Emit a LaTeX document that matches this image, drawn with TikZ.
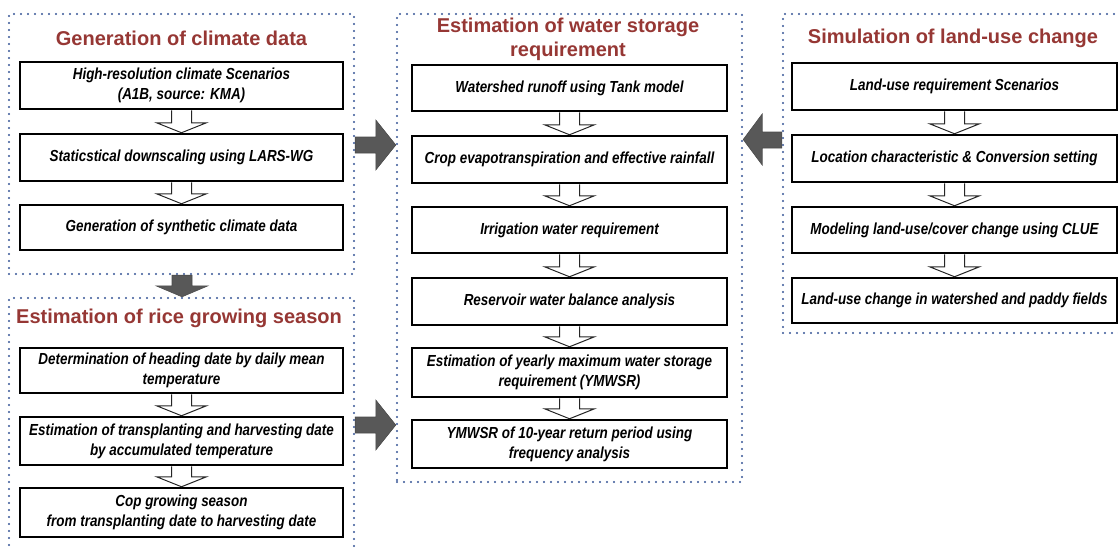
\documentclass[tikz,border=0pt]{standalone}
\usepackage{fontspec}
\setmainfont{Liberation Sans}
\newfontfamily\boxfont[FakeStretch=0.84]{Liberation Sans}
\usetikzlibrary{calc}
\definecolor{dotblue}{RGB}{55,85,150}
\definecolor{titlered}{RGB}{150,55,52}
\definecolor{arrgray}{RGB}{88,88,88}
\tikzset{
  frame/.style={draw=dotblue, line width=2.4pt, dash pattern=on 0pt off 7pt, line cap=round, inner sep=0pt},
  grptitle/.style={text=titlered, font=\bfseries\fontsize{20}{24}\selectfont, align=center, inner sep=0pt},
  stepbox/.style={draw=black, line width=2.5pt, fill=white, align=center, inner sep=0pt,
    font=\boxfont\bfseries\itshape\fontsize{16}{20}\selectfont, minimum height=47pt},
  hollow/.style={draw=black!85, line width=1pt, fill=white, line join=miter},
  garrow/.style={draw=black!70, line width=0.6pt, fill=arrgray, line join=miter}
}
\newcommand\hdown[2]{%
  \draw[hollow] let \p1=(#1.south), \p2=(#2.north) in
    (\x1-10pt,\y1) -- (\x1-10pt,\y2+10pt) -- (\x1-25pt,\y2+10pt) -- (\x1,\y2)
    -- (\x1+25pt,\y2+10pt) -- (\x1+10pt,\y2+10pt) -- (\x1+10pt,\y1);}
\begin{document}
\begin{tikzpicture}[x=1pt,y=1pt]
\useasboundingbox (0,0) rectangle (1118,-547);
\fill[white] (0,0) rectangle (1118,-547);

% frames
\node[frame, minimum width=345, minimum height=260] (clim) at (181.5,-144) {};
\node[frame, minimum width=345, minimum height=260] (rice) at (181.5,-428) {};
\node[frame, minimum width=345, minimum height=468] (water) at (569.5,-248) {};
\node[frame, minimum width=342, minimum height=319] (land) at (954,-173.5) {};

% titles
\node[grptitle] (climt) at (181.5,-38) {Generation of climate data};
\node[grptitle] (ricet) at (179,-318) {Estimation of rice growing season};
\node[grptitle] (watert) at (568,-39.5) {Estimation of water storage\\requirement};
\node[grptitle] (landt) at (953,-38) {Simulation of land-use change};

% climate boxes
\node[stepbox, minimum width=323] (c1) at (181.5,-85.5) {High-resolution climate Scenarios\\(A1B, source: KMA)};
\node[stepbox, minimum width=323] (c2) at (181.5,-157.5) {Staticstical downscaling using LARS-WG};
\node[stepbox, minimum width=323, minimum height=45] (c3) at (181.5,-227.5) {Generation of synthetic climate data};

% rice boxes
\node[stepbox, minimum width=323, minimum height=45] (r1) at (181.5,-370.5) {Determination of heading date by daily mean\\temperature};
\node[stepbox, minimum width=323, minimum height=48] (r2) at (181.5,-441) {Estimation of transplanting and harvesting date\\by accumulated temperature};
\node[stepbox, minimum width=323, minimum height=49] (r3) at (181.5,-512.5) {Cop growing season\\from transplanting date to harvesting date};

% water boxes
\node[stepbox, minimum width=315, minimum height=46] (w1) at (569.5,-88) {Watershed runoff using Tank model};
\node[stepbox, minimum width=315] (w2) at (569.5,-159.5) {Crop evapotranspiration and effective rainfall};
\node[stepbox, minimum width=315, minimum height=46] (w3) at (569.5,-230) {Irrigation water requirement};
\node[stepbox, minimum width=315] (w4) at (569.5,-301.5) {Reservoir water balance analysis};
\node[stepbox, minimum width=315, minimum height=49] (w5) at (569.5,-372.5) {Estimation of yearly maximum water storage\\requirement (YMWSR)};
\node[stepbox, minimum width=315, minimum height=48] (w6) at (569.5,-444) {YMWSR of 10-year return period using\\frequency analysis};

% land boxes
\node[stepbox, minimum width=325] (l1) at (954.5,-86.5) {Land-use requirement Scenarios};
\node[stepbox, minimum width=325] (l2) at (954.5,-158.5) {Location characteristic \& Conversion setting};
\node[stepbox, minimum width=325, minimum height=46] (l3) at (954.5,-230) {Modeling land-use/cover change using CLUE};
\node[stepbox, minimum width=325, minimum height=45] (l4) at (954.5,-300.5) {Land-use change in watershed and paddy fields};

% hollow arrows
\hdown{c1}{c2}
\hdown{c2}{c3}
\hdown{r1}{r2}
\hdown{r2}{r3}
\hdown{w1}{w2}
\hdown{w2}{w3}
\hdown{w3}{w4}
\hdown{w4}{w5}
\hdown{w5}{w6}
\hdown{l1}{l2}
\hdown{l2}{l3}
\hdown{l3}{l4}

% gray arrows
\draw[garrow] let \p1=(clim.east), \p2=(water.west) in
  (\x1,-137pt) -- (\x2-20pt,-137pt) -- (\x2-20pt,-120pt) -- (\x2,-145pt)
  -- (\x2-20pt,-170pt) -- (\x2-20pt,-153pt) -- (\x1,-153pt) -- cycle;
\draw[garrow] let \p1=(rice.east), \p2=(water.west) in
  (\x1,-417pt) -- (\x2-20pt,-417pt) -- (\x2-20pt,-400pt) -- (\x2,-425pt)
  -- (\x2-20pt,-450pt) -- (\x2-20pt,-433pt) -- (\x1,-433pt) -- cycle;
\draw[garrow] let \p1=(land.west), \p2=(water.east) in
  (\x1,-132pt) -- (\x2+19pt,-132pt) -- (\x2+19pt,-114pt) -- (\x2,-139.5pt)
  -- (\x2+19pt,-165pt) -- (\x2+19pt,-148pt) -- (\x1,-148pt) -- cycle;
\draw[garrow] let \p1=(clim.south), \p2=(rice.north) in
  (182pt-10pt,\y1) -- (182pt-10pt,\y2+11pt) -- (182pt-26pt,\y2+11pt) -- (182pt,\y2)
  -- (182pt+26pt,\y2+11pt) -- (182pt+10pt,\y2+11pt) -- (182pt+10pt,\y1) -- cycle;
\end{tikzpicture}
\end{document}
